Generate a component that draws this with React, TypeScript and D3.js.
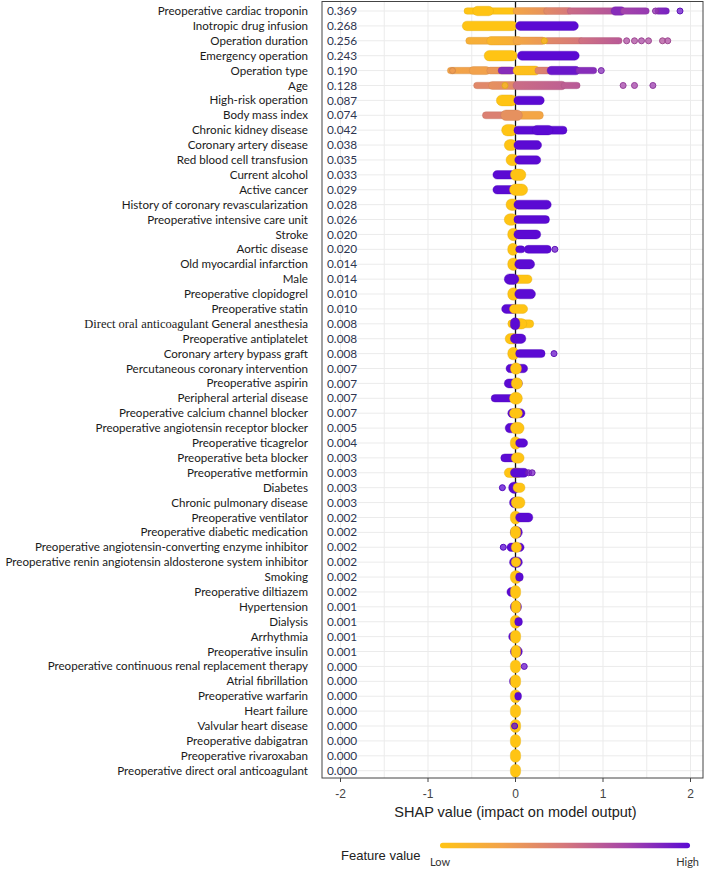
import React from "react";
import * as d3 from "d3";

const features = [
  "Preoperative cardiac troponin", "Inotropic drug infusion", "Operation duration", "Emergency operation",
  "Operation type", "Age", "High-risk operation", "Body mass index", "Chronic kidney disease",
  "Coronary artery disease", "Red blood cell transfusion", "Current alcohol", "Active cancer",
  "History of coronary revascularization", "Preoperative intensive care unit", "Stroke", "Aortic disease",
  "Old myocardial infarction", "Male", "Preoperative clopidogrel", "Preoperative statin",
  "General anesthesia", "Preoperative antiplatelet", "Coronary artery bypass graft",
  "Percutaneous coronary intervention", "Preoperative aspirin", "Peripheral arterial disease",
  "Preoperative calcium channel blocker", "Preoperative angiotensin receptor blocker", "Preoperative ticagrelor",
  "Preoperative beta blocker", "Preoperative metformin", "Diabetes", "Chronic pulmonary disease",
  "Preoperative ventilator", "Preoperative diabetic medication",
  "Preoperative angiotensin-converting enzyme inhibitor",
  "Preoperative renin angiotensin aldosterone system inhibitor", "Smoking", "Preoperative diltiazem",
  "Hypertension", "Dialysis", "Arrhythmia", "Preoperative insulin",
  "Preoperative continuous renal replacement therapy", "Atrial fibrillation", "Preoperative warfarin",
  "Heart failure", "Valvular heart disease", "Preoperative dabigatran", "Preoperative rivaroxaban",
  "Preoperative direct oral anticoagulant",
];
const serifPrefix = ["", "", "", "", "", "", "", "", "", "", "", "", "", "", "", "", "", "", "", "", "",
  "Direct oral anticoagulant "];

const importance = [
  "0.369", "0.268", "0.256", "0.243", "0.190", "0.128", "0.087", "0.074", "0.042", "0.038", "0.035",
  "0.033", "0.029", "0.028", "0.026", "0.020", "0.020", "0.014", "0.014", "0.010", "0.010", "0.008",
  "0.008", "0.008", "0.007", "0.007", "0.007", "0.007", "0.005", "0.004", "0.003", "0.003", "0.003",
  "0.003", "0.002", "0.002", "0.002", "0.002", "0.002", "0.002", "0.001", "0.001", "0.001", "0.001",
  "0.000", "0.000", "0.000", "0.000", "0.000", "0.000", "0.000", "0.000",
];

// [row, shapFrom, shapTo, featureValueFrom, featureValueTo, density]
const segments: number[][] = [
  [0, -0.56, -0.02, 0, 0, 0.25], [0, -0.46, -0.28, 0, 0, 0.55], [0, 0.0, 0.35, 0.22, 0.35, 0.3],
  [0, 0.35, 0.62, 0.38, 0.5, 0.3], [0, 0.62, 1.12, 0.55, 0.68, 0.25], [0, 1.12, 1.23, 0.85, 0.85, 0.45],
  [0, 1.23, 1.5, 0.75, 0.8, 0.25], [0, 1.62, 1.73, 0.85, 0.9, 0.25],
  [1, -0.58, -0.01, 0, 0, 0.55], [1, 0.03, 0.69, 1, 1, 0.5],
  [2, -0.54, -0.05, 0.15, 0.2, 0.3], [2, -0.3, 0.05, 0.1, 0.18, 0.45], [2, 0.0, 0.32, 0.2, 0.32, 0.35],
  [2, 0.35, 0.75, 0.38, 0.5, 0.25], [2, 0.75, 1.19, 0.52, 0.65, 0.25],
  [3, -0.33, -0.01, 0, 0, 0.65], [3, 0.05, 0.70, 1, 1, 0.5],
  [4, -0.75, -0.3, 0.22, 0.28, 0.25], [4, -0.5, -0.32, 0.25, 0.25, 0.4], [4, -0.3, -0.05, 0.3, 0.35, 0.3],
  [4, -0.17, -0.03, 0.85, 0.85, 0.3], [4, 0.0, 0.25, 0.02, 0.05, 0.5], [4, 0.25, 0.4, 0.4, 0.5, 0.3],
  [4, 0.39, 0.71, 0.95, 0.95, 0.45], [4, 0.72, 0.9, 0.85, 0.85, 0.25],
  [5, -0.45, -0.28, 0.4, 0.4, 0.25], [5, -0.28, 0.0, 0.35, 0.4, 0.4], [5, 0.0, 0.55, 0.55, 0.62, 0.45],
  [5, 0.55, 0.71, 0.62, 0.65, 0.25],
  [6, -0.19, -0.01, 0, 0, 0.7], [6, 0.01, 0.30, 1, 1, 0.45],
  [7, -0.35, -0.12, 0.45, 0.45, 0.3], [7, 0.05, 0.29, 0.22, 0.22, 0.4], [7, -0.14, 0.05, 0.35, 0.35, 0.65],
  [8, -0.13, -0.01, 0, 0, 0.75], [8, 0.01, 0.56, 1, 1, 0.4], [8, 0.22, 0.4, 1, 1, 0.55],
  [9, -0.1, -0.01, 0, 0, 0.7], [9, 0.01, 0.27, 1, 1, 0.5],
  [10, -0.08, 0.01, 0, 0, 0.75], [10, 0.02, 0.26, 1, 1, 0.45],
  [11, -0.23, -0.03, 1, 1, 0.45], [11, -0.03, 0.09, 0, 0, 0.75],
  [12, -0.23, -0.01, 1, 1, 0.45], [12, -0.04, 0.11, 0, 0, 0.75],
  [13, -0.08, 0.01, 0, 0, 0.75], [13, 0.01, 0.38, 1, 1, 0.5],
  [14, -0.1, 0.0, 0, 0, 0.75], [14, 0.01, 0.36, 1, 1, 0.4],
  [15, -0.06, 0.01, 0, 0, 0.85], [15, 0.01, 0.26, 1, 1, 0.5],
  [16, -0.06, 0.0, 0, 0, 0.8], [16, 0.03, 0.08, 1, 1, 0.3], [16, 0.13, 0.38, 1, 1, 0.4],
  [17, -0.06, 0.01, 0, 0, 0.85], [17, 0.02, 0.19, 1, 1, 0.55],
  [18, -0.02, 0.16, 0, 0, 0.45], [18, -0.1, 0.01, 1, 1, 0.65],
  [19, -0.06, 0.01, 0, 0, 0.85], [19, 0.02, 0.2, 1, 1, 0.55],
  [20, -0.13, 0.0, 1, 1, 0.5], [20, -0.04, 0.11, 0, 0, 0.5],
  [21, -0.06, 0.18, 0, 0, 0.4], [21, 0.0, 0.1, 0, 0, 0.65], [21, -0.03, 0.02, 1, 1, 0.8],
  [22, -0.09, 0.01, 0, 0, 0.65], [22, -0.03, 0.09, 1, 1, 0.55],
  [23, -0.06, 0.01, 0, 0, 0.85], [23, 0.03, 0.31, 1, 1, 0.4],
  [24, -0.08, 0.11, 1, 1, 0.45], [24, -0.03, 0.04, 0, 0, 0.75],
  [25, -0.1, 0.05, 1, 1, 0.5], [25, -0.02, 0.05, 0, 0, 0.75],
  [26, -0.25, -0.04, 1, 1, 0.35], [26, -0.04, 0.05, 0, 0, 0.8],
  [27, -0.06, 0.08, 1, 1, 0.5], [27, -0.04, 0.05, 0, 0, 0.6],
  [28, -0.09, 0.0, 1, 1, 0.55], [28, -0.03, 0.07, 0, 0, 0.75],
  [29, -0.03, 0.03, 0, 0, 0.85], [29, 0.03, 0.11, 1, 1, 0.45],
  [30, -0.14, 0.03, 1, 1, 0.4], [30, -0.02, 0.07, 0, 0, 0.65],
  [31, -0.1, 0.05, 0, 0, 0.55], [31, -0.03, 0.12, 1, 1, 0.5],
  [32, -0.05, 0.02, 1, 1, 0.75], [32, 0.0, 0.08, 0, 0, 0.55],
  [33, -0.04, 0.02, 1, 1, 0.65], [33, -0.02, 0.08, 0, 0, 0.75],
  [34, -0.03, 0.03, 0, 0, 0.9], [34, 0.03, 0.17, 1, 1, 0.5],
  [35, -0.03, 0.05, 1, 1, 0.75], [35, -0.03, 0.03, 0, 0, 0.85],
  [36, -0.07, 0.07, 1, 1, 0.45], [36, -0.02, 0.04, 0, 0, 0.65],
  [37, -0.04, 0.05, 1, 1, 0.65], [37, -0.02, 0.03, 0, 0, 0.55],
  [38, -0.03, 0.04, 0, 0, 0.9], [38, 0.03, 0.06, 1, 1, 0.45],
  [39, -0.07, 0.0, 1, 1, 0.5], [39, -0.03, 0.03, 0, 0, 0.9],
  [40, -0.03, 0.04, 1, 1, 0.75], [40, -0.02, 0.03, 0, 0, 0.85],
  [41, -0.03, 0.03, 0, 0, 0.9], [41, 0.02, 0.05, 1, 1, 0.45],
  [42, -0.05, 0.0, 1, 1, 0.55], [42, -0.03, 0.03, 0, 0, 0.9],
  [43, -0.03, 0.05, 1, 1, 0.7], [43, -0.02, 0.03, 0, 0, 0.85],
  [44, -0.03, 0.03, 0, 0, 0.9],
  [45, -0.04, 0.0, 1, 1, 0.55], [45, -0.03, 0.03, 0, 0, 0.9],
  [46, -0.03, 0.03, 0, 0, 0.9], [46, 0.02, 0.04, 1, 1, 0.4],
  [47, -0.03, 0.03, 0, 0, 0.9],
  [48, -0.03, 0.03, 0, 0, 0.9],
  [49, -0.03, 0.03, 0, 0, 0.9],
  [50, -0.03, 0.03, 0, 0, 0.9],
  [51, -0.03, 0.03, 0, 0, 0.9],
];

// [row, shap, featureValue]
const dots: number[][] = [
  [0, 1.6, 0.8], [0, 1.88, 0.95],
  [2, 0.33, 0.02], [2, 1.27, 0.7], [2, 1.36, 0.7], [2, 1.44, 0.72], [2, 1.52, 0.7], [2, 1.68, 0.68], [2, 1.74, 0.7],
  [4, -0.72, 0.3], [4, 0.98, 0.85],
  [5, -0.12, 0.05], [5, 1.23, 0.75], [5, 1.36, 0.75], [5, 1.57, 0.78],
  [16, 0.45, 0.95], [23, 0.44, 0.95],
  [31, 0.15, 0.9], [31, 0.19, 0.9],
  [32, -0.15, 1], [36, -0.14, 1], [44, 0.1, 0.95], [48, -0.01, 1],
];

const xTicks = [-2, -1, 0, 1, 2];
const gridX = [-2, -1.5, -1, -0.5, 0, 0.5, 1, 1.5, 2];
const colorStops = ["#FFC414", "#F2A24C", "#D5777C", "#A545AA", "#5B0AD3"];

const W = 710, H = 871;
const PANEL = { left: 322, right: 703, top: 1.5, bottom: 778 };

export default function App() {
  const x = d3.scaleLinear().domain([-2, 2]).range([340.5, 690.5]);
  const y = d3.scaleLinear().domain([0, features.length - 1]).range([11, 770.7]);
  const color = d3.piecewise(d3.interpolateRgb, colorStops);
  const thick = d3.scaleLinear().domain([0, 1]).range([4, 14]);
  const sans = "Lato, 'Open Sans', sans-serif";
  const arial = "'Liberation Sans', Arial, sans-serif";

  return (
    <svg width={W} height={H} style={{ position: "absolute", left: 0, top: 0, background: "#fff" }}>
      <defs>
        <linearGradient id="legendGrad" x1="0" x2="1" y1="0" y2="0">
          {colorStops.map((c, i) => (
            <stop key={i} offset={i / (colorStops.length - 1)} stopColor={c} />
          ))}
        </linearGradient>
        {segments.map((s, i) =>
          s[3] !== s[4] ? (
            <linearGradient key={i} id={`sg${i}`} x1="0" x2="1" y1="0" y2="0">
              <stop offset="0" stopColor={color(s[3])} />
              <stop offset="1" stopColor={color(s[4])} />
            </linearGradient>
          ) : null
        )}
      </defs>
      <rect x={0} y={0} width={W} height={H} fill="#fff" />
      {features.map((_, i) => (
        <line key={`h${i}`} x1={356} x2={PANEL.right} y1={y(i)} y2={y(i)} stroke="#ebebeb" strokeWidth={1} />
      ))}
      {gridX.map((g) => (
        <line key={`v${g}`} x1={x(g)} x2={x(g)} y1={PANEL.top} y2={PANEL.bottom}
          stroke={g === 0 ? "#111" : "#ebebeb"} strokeWidth={g === 0 ? 1.3 : 1} />
      ))}
      {segments.map((s, i) => {
        const h = thick(s[5]);
        const x0 = x(s[1]) - 2.5;
        const x1 = x(s[2]) + 2.5;
        const w = Math.max(5.5, x1 - x0);
        const cx = (x0 + x1) / 2;
        const r = Math.min(w, h) / 2;
        const fill = s[3] !== s[4] ? `url(#sg${i})` : color(s[3]);
        const stroke = d3.color(color((s[3] + s[4]) / 2))!.darker(0.4).formatHex();
        return (
          <rect key={`s${i}`} x={cx - w / 2} y={y(s[0]) - h / 2} width={w} height={h} rx={r} ry={r}
            fill={fill} stroke={stroke} strokeWidth={0.6} strokeOpacity={0.6} />
        );
      })}
      {dots.map((d, i) => (
        <circle key={`d${i}`} cx={x(d[1])} cy={y(d[0])} r={3} fill={color(d[2])} fillOpacity={0.75}
          stroke={d3.color(color(d[2]))!.darker(0.3).formatHex()} strokeWidth={1} />
      ))}
      <rect x={PANEL.left} y={PANEL.top} width={PANEL.right - PANEL.left} height={PANEL.bottom - PANEL.top}
        fill="none" stroke="#444" strokeWidth={1} />
      {features.map((f, i) => (
        <text key={`l${i}`} x={308} y={y(i)} dy="0.35em" textAnchor="end" fontFamily={sans} fontSize={11.6}
          fill="#1a1a1a">
          {serifPrefix[i] ? (
            <tspan fontFamily="'Liberation Serif', 'DejaVu Serif', serif" fontSize={12.5}>
              {serifPrefix[i]}
            </tspan>
          ) : null}
          <tspan>{f}</tspan>
        </text>
      ))}
      {importance.map((v, i) => (
        <text key={`v${i}`} x={327} y={y(i)} dy="0.35em" fontFamily={sans} fontSize={11.8} fill="#2e3550">
          {v}
        </text>
      ))}
      {xTicks.map((t) => (
        <g key={`t${t}`}>
          <line x1={x(t)} x2={x(t)} y1={PANEL.bottom} y2={PANEL.bottom + 4} stroke="#444" />
          <text x={x(t)} y={798} textAnchor="middle" fontFamily={arial} fontSize={12} fill="#444">
            {t}
          </text>
        </g>
      ))}
      <text x={x(0)} y={817} textAnchor="middle" fontFamily={arial} fontSize={14.5} fill="#222">
        SHAP value (impact on model output)
      </text>
      <text x={341} y={860} fontFamily={arial} fontSize={13} fill="#222">Feature value</text>
      <rect x={440} y={842.8} width={250} height={5.5} rx={2.75} fill="url(#legendGrad)" />
      <text x={430} y={866} fontFamily={sans} fontSize={11} fill="#333">Low</text>
      <text x={699} y={866} textAnchor="end" fontFamily={sans} fontSize={11} fill="#333">High</text>
    </svg>
  );
}
